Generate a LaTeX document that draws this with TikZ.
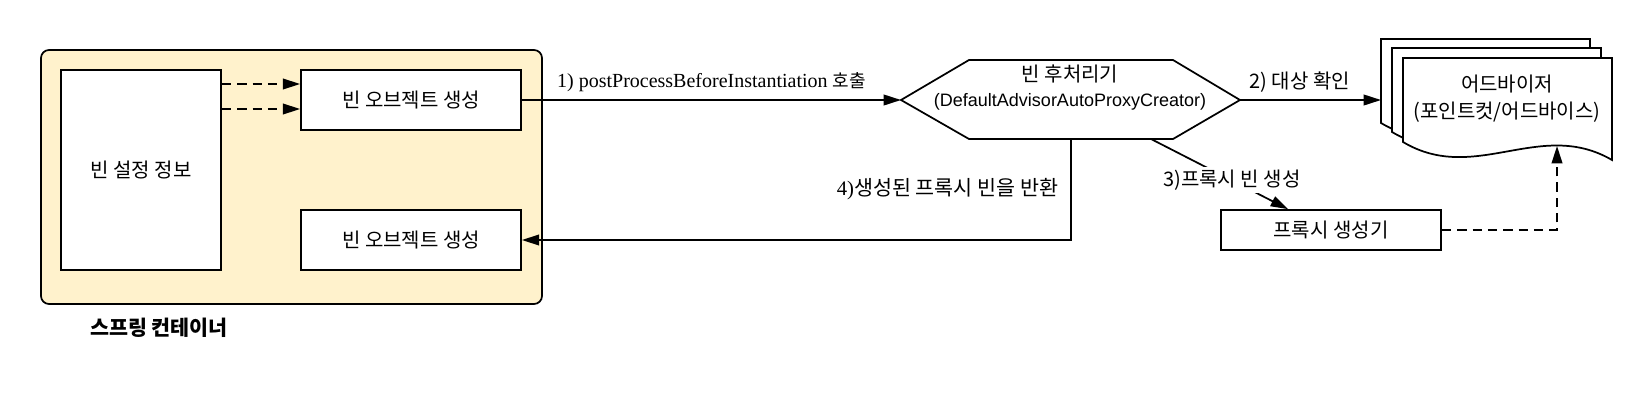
\documentclass[tikz,border=0pt]{standalone}
\usepackage{fontspec}
\setmainfont{Liberation Serif}
\setsansfont{Liberation Sans}
\newfontfamily\kr{Noto Sans CJK KR}
\usetikzlibrary{arrows.meta,calc}
\definecolor{contfill}{HTML}{FFF2CC}
\tikzset{
  stroke/.style={line width=1.3pt},
  box/.style={draw, stroke, fill=white, minimum width=165pt, minimum height=45pt, inner sep=0pt, font=\kr\fontsize{15}{17}\selectfont},
  arr/.style={stroke, -{Triangle[length=13pt,width=8pt]}},
  dasharr/.style={arr, dash pattern=on 7pt off 4.5pt},
  lbl/.style={font=\kr\fontsize{15}{17}\selectfont, inner sep=2pt},
}
\newcommand\advdoc[2]{\draw[stroke, fill=white, shift={(#1,#2)}] (1403,58) -- (1612,58) -- (1612,160) .. controls (1540,118) and (1475,185) .. (1403,142) -- cycle;}
\begin{document}
\begin{tikzpicture}[x=0.75pt,y=-0.75pt]
\useasboundingbox (0,0) rectangle (1651,411);
% container
\node[draw, stroke, fill=contfill, rounded corners=6pt, minimum width=375.75pt, minimum height=190.5pt] (cont) at (291.5,177) {};
\node[box, minimum width=120pt, minimum height=150pt] (cfg) at (141,170) {빈 설정 정보};
\node[box] (obj1) at (411,100) {빈 오브젝트 생성};
\node[box] (obj2) at (411,240) {빈 오브젝트 생성};
\node[font=\kr\bfseries\fontsize{15.5}{18}\selectfont] (contlbl) at (159,328) {스프링 컨테이너};
% dashed arrows inside container
\coordinate (d1) at ([yshift=12pt]obj1.west);
\coordinate (d2) at ([yshift=-6.75pt]obj1.west);
\draw[dasharr] (d1 -| cfg.east) -- (d1);
\draw[dasharr] (d2 -| cfg.east) -- (d2);
% hexagon (bean post processor)
\coordinate (hexL) at (901,100);
\coordinate (hexR) at (1240,100);
\coordinate (h3) at (1151,139);
\coordinate (h4) at (1071,139);
\draw[stroke, fill=white] (hexL) -- (969,60) -- (1173,60) -- (hexR) -- (1173,139) -- (969,139) -- cycle;
\node[align=center, inner sep=0pt, font=\kr\fontsize{15}{18.75}\selectfont] (bpp) at (1070,87.5)
  {빈 후처리기\\{\sffamily\fontsize{13.5}{18.75}\selectfont (DefaultAdvisorAutoProxyCreator)}};
% advisor documents
\advdoc{-22}{-19}
\advdoc{-11}{-10}
\advdoc{0}{0}
\coordinate (docL) at (1381,100);
\coordinate (docB) at (1557,146);
\node[align=center, inner sep=0pt, font=\kr\fontsize{15}{20}\selectfont] (adv) at (1507,98.5)
  {어드바이저\\(포인트컷/어드바이스)};
% proxy creator
\node[box, minimum height=30pt] (proxy) at (1331,230) {프록시 생성기};
\coordinate (p3) at ([xshift=-32.25pt]proxy.north);
% connectors
\draw[arr] (obj1.east) -- node[font=\fontsize{15}{18}\selectfont, inner sep=2pt, yshift=13.5pt] (l1)
  {1) postProcessBeforeInstantiation {\kr\fontsize{13.5}{18}\selectfont 호출}} (hexL);
\draw[arr] (hexR) -- node[lbl, xshift=-8pt, yshift=13.5pt] (l2) {2) 대상 확인} (docL);
\draw[arr] (h3) -- node[lbl, fill=white, pos=0.59] (l3) {3)프록시 빈 생성} (p3);
\draw[arr] (h4) |- node[lbl, font=\kr\fontsize{15.5}{17}\selectfont, pos=0.25, anchor=east, xshift=-7pt] (l4) {{\rmfamily 4)}생성된 프록시 빈을 반환} (obj2.east);
\draw[dasharr] (proxy.east) -| (docB);
\end{tikzpicture}
\end{document}
